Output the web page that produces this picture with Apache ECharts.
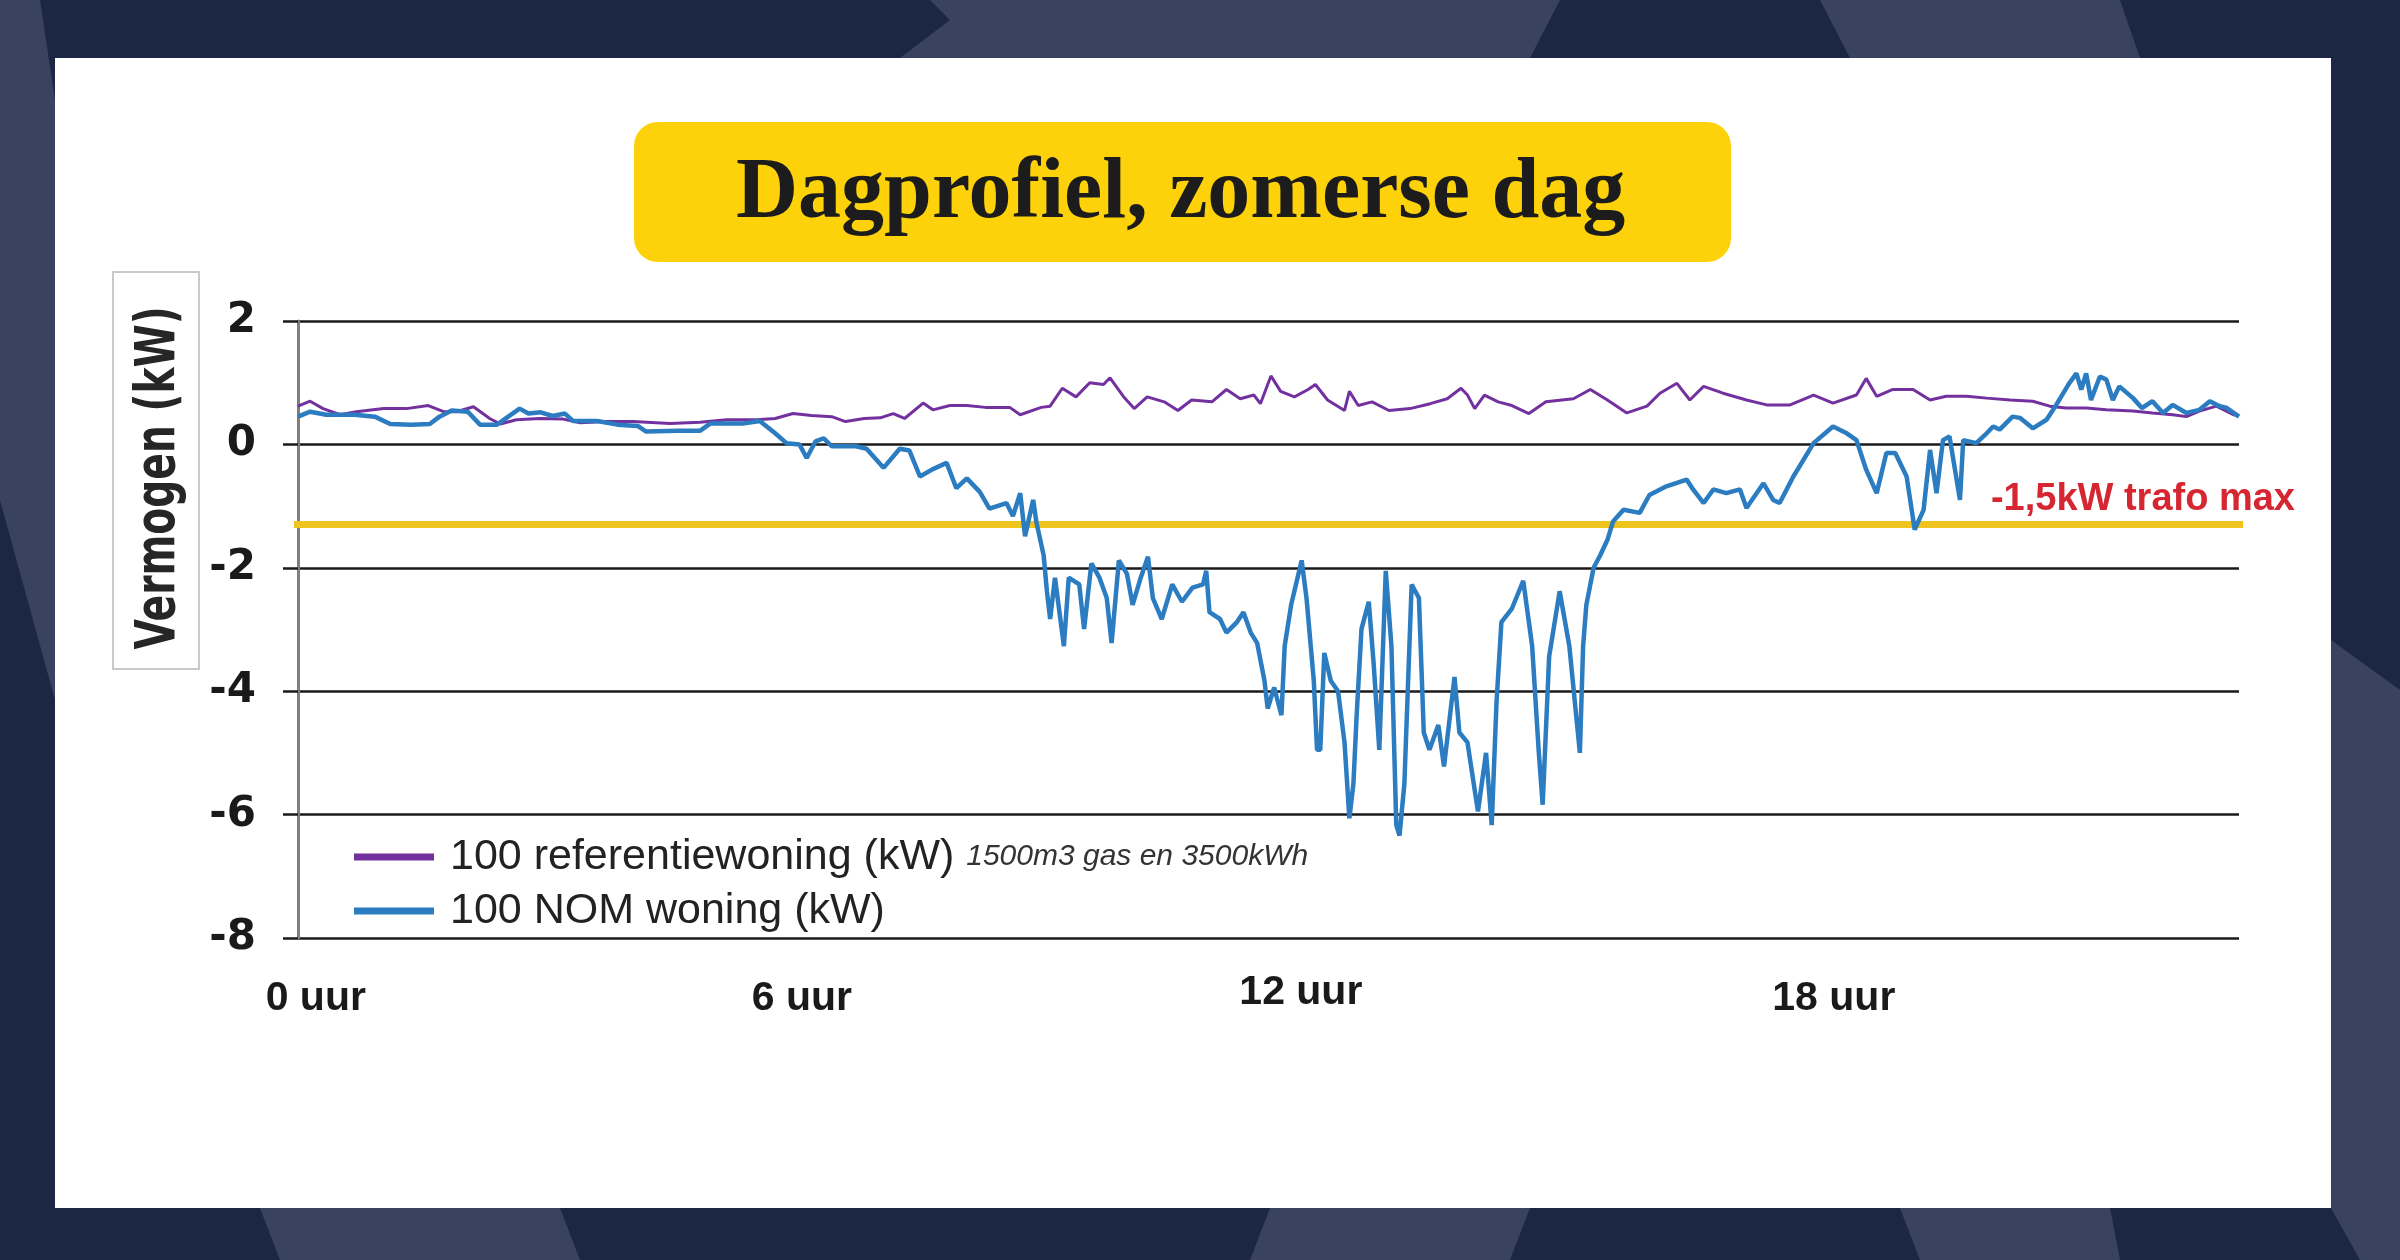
<!DOCTYPE html>
<html><head><meta charset="utf-8">
<script src="https://cdn.jsdelivr.net/npm/echarts@6/dist/echarts.min.js"></script>
<style>html,body{margin:0;padding:0;background:#1b2745;} #c{width:2400px;height:1260px;}</style>
</head><body><div id="c"></div>
<script>
// ---------- data (hours, kW) ----------
const refName = '100 referentiewoning (kW)';
const nomName = '100 NOM woning (kW)';
const refNote = '1500m3 gas en 3500kWh';
const trafoLabel = '-1,5kW trafo max';

const refT = [0,0.15,0.31,0.52,0.72,1.06,1.34,1.61,1.8,1.96,2.17,2.37,2.5,2.7,2.99,3.28,3.49,3.82,4.14,4.6,4.97,5.3,5.67,5.9,6.12,6.35,6.6,6.77,7.0,7.2,7.36,7.5,7.73,7.85,8.06,8.27,8.5,8.8,8.93,9.19,9.3,9.45,9.62,9.79,9.96,10.04,10.21,10.34,10.5,10.71,10.88,11.05,11.3,11.48,11.65,11.82,11.9,12.03,12.15,12.32,12.49,12.58,12.73,12.94,13.0,13.11,13.28,13.49,13.75,14.0,14.21,14.38,14.46,14.55,14.67,14.84,15.01,15.22,15.43,15.77,15.98,16.19,16.43,16.68,16.84,17.05,17.21,17.38,17.62,17.91,18.16,18.45,18.74,18.98,19.27,19.39,19.52,19.72,19.97,20.18,20.38,20.63,20.88,21.17,21.45,21.66,21.86,22.11,22.36,22.69,22.93,23.18,23.35,23.51,23.72,23.93,24.0];
const refV = [0.62,0.70,0.58,0.48,0.53,0.58,0.58,0.63,0.53,0.53,0.61,0.42,0.33,0.40,0.42,0.41,0.35,0.37,0.37,0.34,0.36,0.40,0.40,0.42,0.50,0.47,0.45,0.37,0.42,0.43,0.50,0.42,0.67,0.56,0.63,0.63,0.60,0.60,0.48,0.60,0.62,0.91,0.77,1.00,0.97,1.08,0.77,0.58,0.77,0.69,0.55,0.72,0.69,0.89,0.74,0.80,0.66,1.11,0.86,0.77,0.89,0.97,0.72,0.55,0.86,0.63,0.69,0.55,0.58,0.66,0.74,0.91,0.80,0.58,0.80,0.69,0.63,0.50,0.69,0.74,0.89,0.72,0.51,0.62,0.83,0.99,0.72,0.94,0.83,0.72,0.64,0.64,0.80,0.67,0.80,1.07,0.78,0.89,0.89,0.72,0.78,0.78,0.75,0.72,0.70,0.62,0.59,0.59,0.56,0.54,0.51,0.48,0.45,0.54,0.62,0.48,0.47];

const nomT = [0,0.15,0.35,0.7,0.95,1.14,1.4,1.63,1.75,1.9,2.1,2.25,2.46,2.6,2.74,2.85,3.0,3.15,3.3,3.4,3.7,3.95,4.2,4.3,4.7,4.97,5.1,5.5,5.71,5.9,6.04,6.2,6.29,6.4,6.5,6.6,6.9,7.03,7.24,7.44,7.56,7.69,7.85,8.02,8.14,8.27,8.43,8.55,8.76,8.84,8.93,8.99,9.09,9.13,9.22,9.26,9.3,9.36,9.47,9.53,9.66,9.72,9.81,9.91,10.0,10.06,10.15,10.25,10.32,10.42,10.51,10.57,10.68,10.81,10.93,11.06,11.19,11.23,11.27,11.4,11.48,11.61,11.69,11.78,11.86,11.95,11.99,12.07,12.16,12.2,12.28,12.41,12.47,12.56,12.6,12.64,12.69,12.77,12.86,12.94,13.0,13.05,13.09,13.15,13.24,13.3,13.37,13.45,13.52,13.58,13.62,13.68,13.77,13.86,13.92,13.99,14.1,14.17,14.3,14.36,14.46,14.59,14.69,14.76,14.82,14.88,15.01,15.15,15.26,15.34,15.39,15.47,15.6,15.72,15.85,15.89,15.93,16.02,16.1,16.19,16.26,16.39,16.59,16.71,16.92,17.17,17.25,17.38,17.5,17.66,17.83,17.91,18.12,18.24,18.32,18.49,18.74,18.98,19.15,19.27,19.39,19.52,19.64,19.75,19.89,19.99,20.1,20.18,20.26,20.34,20.42,20.55,20.59,20.75,20.88,20.96,21.04,21.2,21.29,21.45,21.62,21.74,21.9,21.99,22.05,22.11,22.17,22.28,22.36,22.44,22.52,22.69,22.8,22.93,23.06,23.18,23.35,23.51,23.64,23.76,23.85,24.0];
const nomV = [0.45,0.53,0.48,0.48,0.45,0.33,0.32,0.33,0.45,0.55,0.53,0.32,0.32,0.45,0.58,0.50,0.52,0.46,0.50,0.38,0.38,0.32,0.30,0.21,0.22,0.22,0.34,0.34,0.38,0.18,0.02,0.0,-0.22,0.05,0.10,-0.03,-0.03,-0.07,-0.38,-0.07,-0.10,-0.52,-0.40,-0.30,-0.71,-0.55,-0.77,-1.04,-0.95,-1.16,-0.79,-1.49,-0.90,-1.26,-1.80,-2.38,-2.83,-2.16,-3.27,-2.16,-2.27,-2.99,-1.93,-2.16,-2.49,-3.22,-1.88,-2.10,-2.60,-2.16,-1.82,-2.49,-2.83,-2.27,-2.55,-2.32,-2.27,-2.05,-2.72,-2.83,-3.05,-2.88,-2.72,-3.05,-3.22,-3.83,-4.28,-3.94,-4.39,-3.27,-2.60,-1.88,-2.49,-3.83,-4.95,-4.95,-3.38,-3.83,-4.00,-4.83,-6.06,-5.50,-4.39,-2.99,-2.55,-3.55,-4.95,-2.05,-3.27,-6.17,-6.34,-5.50,-2.27,-2.49,-4.67,-4.95,-4.55,-5.22,-3.77,-4.67,-4.83,-5.95,-5.00,-6.17,-4.16,-2.88,-2.66,-2.21,-3.27,-4.95,-5.84,-3.44,-2.38,-3.27,-5.00,-3.27,-2.60,-2.00,-1.80,-1.55,-1.25,-1.06,-1.11,-0.82,-0.68,-0.57,-0.73,-0.95,-0.73,-0.79,-0.73,-1.03,-0.63,-0.90,-0.95,-0.52,0.02,0.29,0.18,0.07,-0.41,-0.79,-0.14,-0.14,-0.52,-1.38,-1.06,-0.09,-0.79,0.07,0.13,-0.90,0.07,0.02,0.18,0.29,0.24,0.45,0.43,0.26,0.40,0.64,0.99,1.15,0.89,1.15,0.72,1.10,1.05,0.72,0.94,0.75,0.59,0.70,0.51,0.64,0.51,0.56,0.70,0.62,0.59,0.45];

const trafoT = [-0.19, 24.23];
const trafoV = [-1.3, -1.3];

const xLabelPos = [0.22, 6.23, 12.4, 18.99];
const xLabelText = ['0 uur', '6 uur', '12 uur', '18 uur'];
const yMin = -8, yMax = 2, yStep = 2;

const pairs = (t, v) => t.map((x, i) => [x, v[i]]);

const chart = echarts.init(document.getElementById('c'), null, {renderer: 'canvas'});
const light = '#39425f';
chart.setOption({
  backgroundColor: '#1b2745',
  animation: false,
  graphic: [
    {type: 'polygon', z: -20, shape: {points: [[0,0],[40,0],[70,200],[100,600],[55,700],[0,500]]}, style: {fill: light}},
    {type: 'polygon', z: -20, shape: {points: [[930,0],[1560,0],[1530,58],[900,58],[950,20]]}, style: {fill: light}},
    {type: 'polygon', z: -20, shape: {points: [[1820,0],[2120,0],[2140,58],[1850,58]]}, style: {fill: light}},
    {type: 'polygon', z: -20, shape: {points: [[2331,640],[2400,690],[2400,1260],[2360,1260],[2331,1208]]}, style: {fill: light}},
    {type: 'polygon', z: -20, shape: {points: [[260,1208],[560,1208],[580,1260],[280,1260]]}, style: {fill: light}},
    {type: 'polygon', z: -20, shape: {points: [[1270,1208],[1530,1208],[1510,1260],[1250,1260]]}, style: {fill: light}},
    {type: 'polygon', z: -20, shape: {points: [[1900,1208],[2110,1208],[2120,1260],[1920,1260]]}, style: {fill: light}},
    {type: 'rect', z: -10, shape: {x: 55, y: 58, width: 2276, height: 1150}, style: {fill: '#ffffff'}},
    {type: 'rect', z: 1, shape: {x: 634, y: 122, width: 1097, height: 140, r: 24}, style: {fill: '#fdd20a'}},
    {type: 'rect', z: 1, shape: {x: 113, y: 272, width: 86, height: 397}, style: {fill: '#ffffff', stroke: '#c9c9c9', lineWidth: 2}},
    {type: 'text', z: 2, x: 159, y: 478, rotation: Math.PI / 2, scaleX: 0.70,
      style: {text: 'Vermogen (kW)', fill: '#262626', font: 'bold 56px "DejaVu Sans"', textAlign: 'center', textVerticalAlign: 'middle'}}
  ],
  title: {
    text: 'Dagprofiel, zomerse dag',
    left: 736, top: 145, padding: 0,
    textStyle: {fontFamily: '"Liberation Serif", serif', fontWeight: 'bold', fontSize: 86, lineHeight: 100, color: '#1c1c1c'}
  },
  legend: {
    data: [refName, nomName],
    orient: 'vertical', left: 349, top: 827, itemGap: 4,
    icon: 'rect', itemWidth: 80, itemHeight: 7,
    textStyle: {fontFamily: '"Liberation Sans"', fontSize: 43, lineHeight: 50, color: '#222', padding: [0, 0, 0, 11],
      rich: {a: {fontFamily: '"Liberation Sans"', fontSize: 43, color: '#222'},
             b: {fontFamily: '"Liberation Sans"', fontSize: 30, fontStyle: 'italic', color: '#333'}}},
    formatter: n => n === refName ? '{a|' + n + '} {b|' + refNote + '}' : '{a|' + n + '}'
  },
  grid: {left: 298, right: 161, top: 321, bottom: 322},
  xAxis: {
    type: 'value', min: 0, max: 24,
    axisLine: {show: false}, axisTick: {show: false}, splitLine: {show: false},
    axisLabel: {
      customValues: xLabelPos, margin: 34,
      fontFamily: '"Liberation Sans"', fontWeight: 'bold', fontSize: 41, color: '#1a1a1a',
      formatter: v => { const i = xLabelPos.indexOf(v); const s = i >= 0 ? xLabelText[i] : ''; return i === 2 ? '{h|' + s + '}' : '{n|' + s + '}'; },
      rich: {n: {fontFamily: '"Liberation Sans"', fontWeight: 'bold', fontSize: 41, color: '#1a1a1a', padding: [6, 0, 0, 0]},
             h: {fontFamily: '"Liberation Sans"', fontWeight: 'bold', fontSize: 41, color: '#1a1a1a'}}
    }
  },
  yAxis: {
    type: 'value', min: yMin, max: yMax, interval: yStep,
    axisLine: {show: true, lineStyle: {color: '#7f7f7f', width: 3}},
    axisTick: {show: true, length: 15, lineStyle: {color: '#1a1a1a', width: 2.5}},
    axisLabel: {fontFamily: '"DejaVu Sans"', fontWeight: 'bold', fontSize: 42, color: '#1a1a1a', margin: 42},
    splitLine: {show: true, lineStyle: {color: '#1a1a1a', width: 2.5}}
  },
  series: [
    {name: 'trafo', type: 'line', data: pairs(trafoT, trafoV), clip: false, symbol: 'none',
      lineStyle: {color: '#efc41e', width: 7}, itemStyle: {color: '#efc41e'},
      endLabel: {show: true, formatter: trafoLabel, color: '#d62631', fontFamily: '"Liberation Sans"', fontWeight: 'bold', fontSize: 38,
        align: 'right', verticalAlign: 'bottom', offset: [44, -6]}},
    {name: refName, type: 'line', data: pairs(refT, refV), showSymbol: false, symbol: 'none',
      lineStyle: {color: '#7331a0', width: 3}, itemStyle: {color: '#7331a0'}},
    {name: nomName, type: 'line', data: pairs(nomT, nomV), showSymbol: false, symbol: 'none',
      lineStyle: {color: '#2b7cc0', width: 4.5}, itemStyle: {color: '#2b7cc0'}}
  ]
});
</script></body></html>
